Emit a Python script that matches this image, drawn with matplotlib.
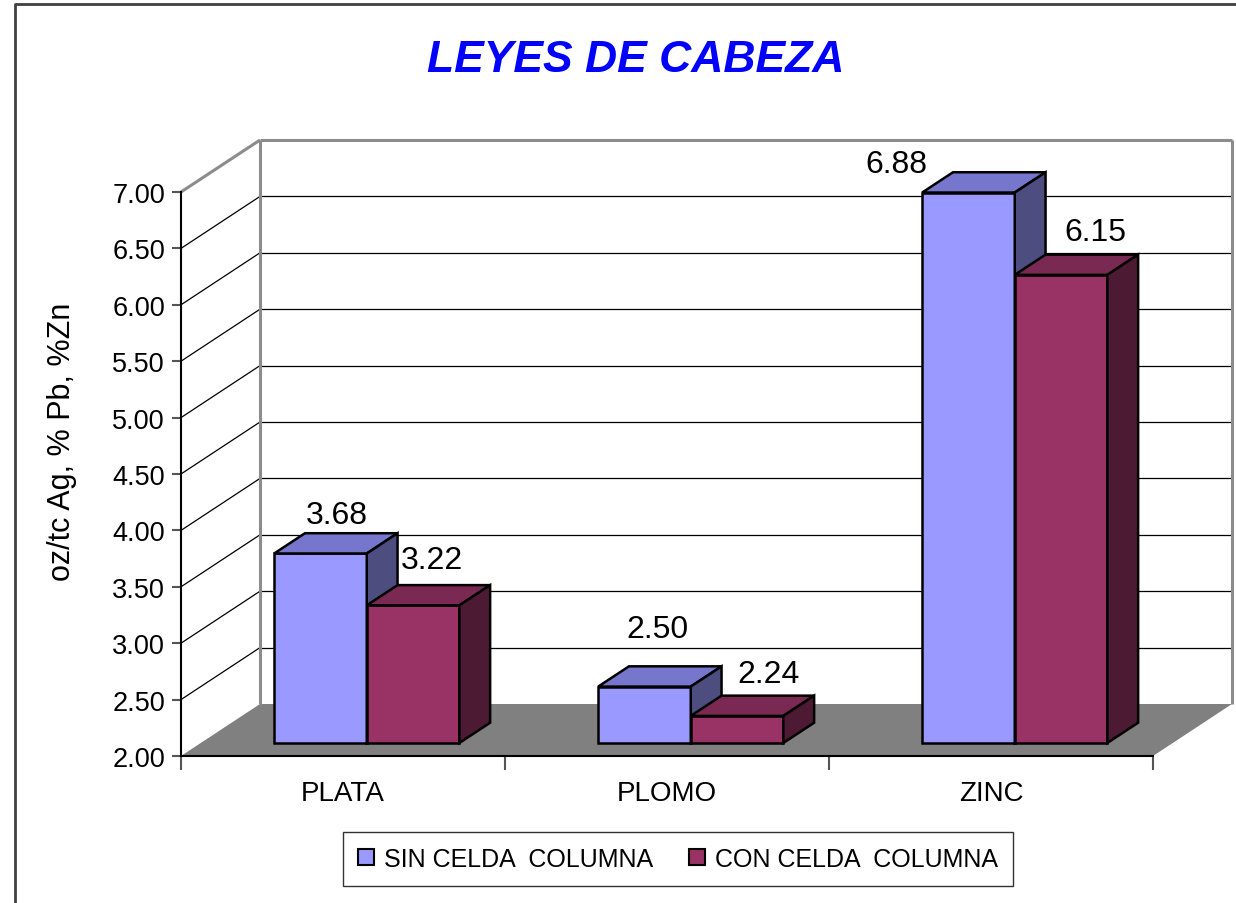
import matplotlib
matplotlib.use('Agg')
import matplotlib.pyplot as plt
from matplotlib.patches import Polygon, Patch
from matplotlib.lines import Line2D

# ---- data ----
categories = ['PLATA', 'PLOMO', 'ZINC']
series_names = ['SIN CELDA  COLUMNA', 'CON CELDA  COLUMNA']
sin_celda = [3.68, 2.50, 6.88]
con_celda = [3.22, 2.24, 6.15]
y_ticks = [2.00, 2.50, 3.00, 3.50, 4.00, 4.50, 5.00, 5.50, 6.00, 6.50, 7.00]
title = 'LEYES DE CABEZA'
y_label = 'oz/tc Ag, % Pb, %Zn'

# ---- styles ----
front_cols = ['#9999FF', '#993366']
top_cols = ['#7676CC', '#7A2952']
side_cols = ['#4D4D80', '#4D1A33']
FONT = 'Liberation Sans'
# data-label offsets (pixels right, up) relative to bar top centre, per series
label_offsets = [[(5, 28), (2, 47), (-83, 18)],
                 [(7, 35), (20, 32), (23, 33)]]

W, H = 1236, 904
fig = plt.figure(figsize=(W / 100, H / 100), dpi=100)
fig.patch.set_facecolor('white')

# front plane of the 3-D box
left, right, bottom, top = 181, 1153, 757, 193
ax = fig.add_axes([left / W, 1 - bottom / H, (right - left) / W, (bottom - top) / H])
ax.set_xlim(-0.5, 2.5)
ax.set_ylim(y_ticks[0], y_ticks[-1])
ax.patch.set_alpha(0)

ymin, ymax = y_ticks[0], y_ticks[-1]
cat_px = (right - left) / 3.0
# depth offset (in data units) for depth fraction d=1  (79 px right, 52 px up)
DX = 79 / cat_px
DY = 52 / ((bottom - top) / (ymax - ymin))


def P(x, y, d):
    return (x + DX * d, y + DY * d)


def poly(pts, fc, ec='none', lw=0, z=1):
    p = Polygon(pts, closed=True, facecolor=fc, edgecolor=ec, linewidth=lw,
                clip_on=False, zorder=z, joinstyle='miter')
    ax.add_patch(p)


def line(p0, p1, c, lw, z=2):
    ax.add_line(Line2D([p0[0], p1[0]], [p0[1], p1[1]], color=c, lw=lw,
                       clip_on=False, zorder=z, solid_capstyle='butt'))


x0, x1 = -0.5, 2.5
# floor
poly([P(x0, ymin, 0), P(x1, ymin, 0), P(x1, ymin, 1), P(x0, ymin, 1)], '#808080', z=1)
# gridlines on back wall and side wall
for t in y_ticks[1:-1]:
    line(P(x0, t, 0), P(x0, t, 1), 'black', 0.9)
    line(P(x0, t, 1), P(x1, t, 1), 'black', 0.9)
# wall edges
wall = '#8C8C8C'
line(P(x0, ymax, 0), P(x0, ymax, 1), wall, 2.2, 3)
line(P(x0, ymax, 1), P(x1, ymax, 1), wall, 2.2, 3)
line(P(x0, ymin, 1), P(x0, ymax, 1), wall, 2.2, 3)
line(P(x1, ymin, 1), P(x1, ymax, 1), wall, 2.2, 3)

# bars
bw = 1 / 3.5
shift = 4 / cat_px
d0, d1 = 0.25, 0.64
z = 10
for i, cat in enumerate(categories):
    for j, vals in enumerate([sin_celda, con_celda]):
        v = vals[i]
        xa = i - bw + j * bw + shift
        xb = xa + bw
        # front
        poly([P(xa, ymin, d0), P(xb, ymin, d0), P(xb, v, d0), P(xa, v, d0)],
             front_cols[j], 'black', 1.8, z)
        # top
        poly([P(xa, v, d0), P(xb, v, d0), P(xb, v, d1), P(xa, v, d1)],
             top_cols[j], 'black', 1.8, z)
        # side
        poly([P(xb, ymin, d0), P(xb, ymin, d1), P(xb, v, d1), P(xb, v, d0)],
             side_cols[j], 'black', 1.8, z)
        z += 1
        xm, ym = P((xa + xb) / 2 - shift, v, (d0 + d1) / 2)
        ox, oy = label_offsets[j][i]
        ax.annotate(f'{v:.2f}', (xm, ym), xytext=(ox * 0.72, oy * 0.72),
                    textcoords='offset points', ha='center', va='center',
                    fontsize=23, family=FONT, annotation_clip=False, zorder=50)

# axes / ticks
for s in ['top', 'right']:
    ax.spines[s].set_visible(False)
for s in ['left', 'bottom']:
    ax.spines[s].set_color('black')
    ax.spines[s].set_linewidth(1.5)
    ax.spines[s].set_zorder(20)

ax.set_yticks(y_ticks)
ax.set_yticklabels([f'{t:.2f}' for t in y_ticks], family=FONT, fontsize=19.5)
ax.tick_params(axis='y', length=6.5, width=1.5, color='#555555', pad=5)

ax.set_xticks([-0.5, 0.5, 1.5, 2.5])
ax.set_xticklabels([])
ax.tick_params(axis='x', which='major', length=10, width=1.5, color='#555555')
ax.set_xticks([0, 1, 2], minor=True)
ax.set_xticklabels(categories, minor=True, family=FONT, fontsize=20)
ax.tick_params(axis='x', which='minor', length=0, pad=17)

# title and axis label
fig.text(636 / W, 1 - 61 / H, title, ha='center', va='center', fontsize=32,
         fontweight='bold', fontstyle='italic', color='#0000FF', family=FONT)
fig.text(62 / W, 1 - 442 / H, y_label, ha='center', va='center', rotation=90,
         fontsize=22, family=FONT)

# legend
handles = [Patch(facecolor=front_cols[k], edgecolor='black', linewidth=1.5)
           for k in range(2)]
leg = fig.legend(handles, series_names, loc='center', bbox_to_anchor=(678 / W, 1 - 860 / H),
                 ncol=2, frameon=True, fancybox=False, edgecolor='black',
                 prop={'family': FONT, 'size': 18}, handlelength=0.64, handleheight=0.64,
                 handletextpad=0.4, columnspacing=1.4, borderpad=0.6)
leg.get_frame().set_linewidth(1.0)

# outer chart border (top and left)
fig.add_artist(Line2D([15 / W, 15 / W, 1.0], [0.0, 1 - 5 / H, 1 - 5 / H],
                      transform=fig.transFigure, color='#404040', lw=2))

fig.savefig('out.png', dpi=100, facecolor='white')
